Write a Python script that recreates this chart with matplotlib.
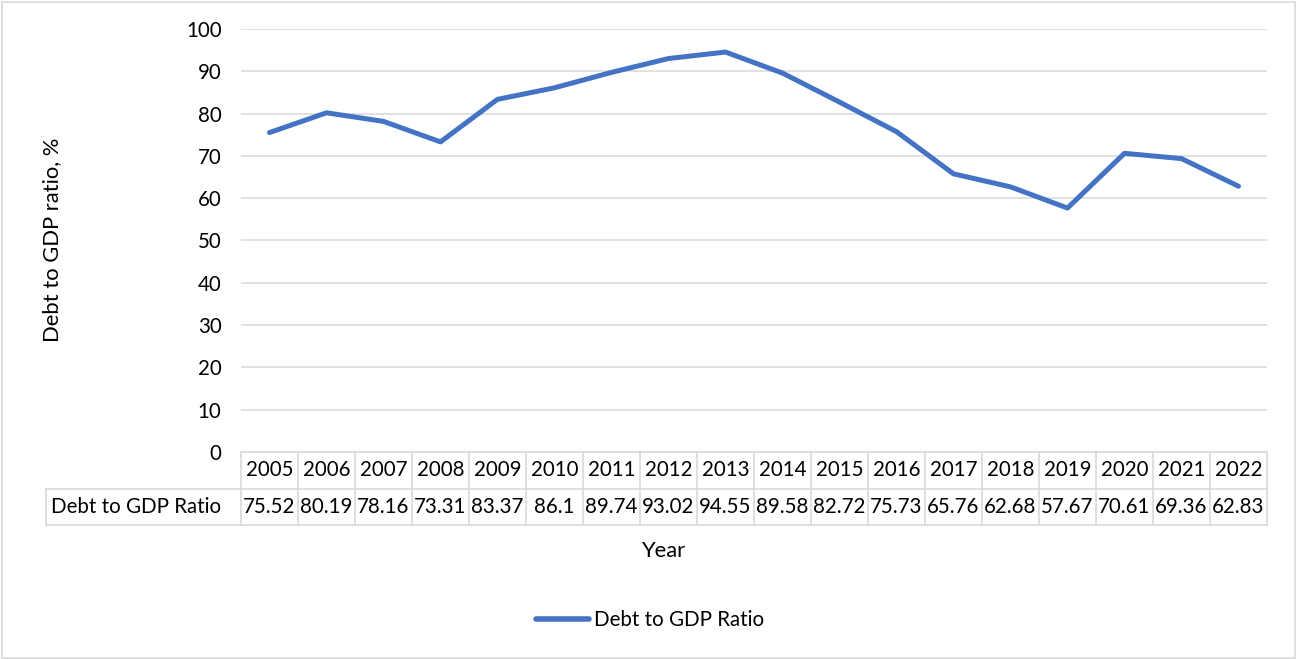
import matplotlib.pyplot as plt
import matplotlib.transforms as mtransforms
from matplotlib.patches import Rectangle

years = ['2005', '2006', '2007', '2008', '2009', '2010', '2011', '2012', '2013',
         '2014', '2015', '2016', '2017', '2018', '2019', '2020', '2021', '2022']
ratio = [75.52, 80.19, 78.16, 73.31, 83.37, 86.1, 89.74, 93.02, 94.55,
         89.58, 82.72, 75.73, 65.76, 62.68, 57.67, 70.61, 69.36, 62.83]
series_name = 'Debt to GDP Ratio'
yticks = [0, 10, 20, 30, 40, 50, 60, 70, 80, 90, 100]

plt.rcParams['font.family'] = ['Lato', 'DejaVu Sans']
W, H = 1296, 659
fs = 14.8
fig = plt.figure(figsize=(W / 100, H / 100), dpi=100)

# outer chart border
fig.patches.append(Rectangle((1.5 / W, 1.5 / H), (W - 3) / W, (H - 3) / H,
                             transform=fig.transFigure, fill=False,
                             edgecolor='#d9d9d9', linewidth=1.2))

left, right, top, bottom = 241, 1267, 29, 452
ax = fig.add_axes([left / W, 1 - bottom / H, (right - left) / W, (bottom - top) / H])

x = list(range(len(years)))
ax.plot(x, ratio, color='#4472C4', linewidth=3.6, solid_capstyle='round',
        solid_joinstyle='round', label=series_name, zorder=3)
ax.set_xlim(-0.5, len(years) - 0.5)
ax.set_ylim(0, 100)
ax.set_yticks(yticks)
ax.set_xticks([])
ax.tick_params(axis='y', length=0, labelsize=fs, pad=14, colors='#000000')
ax.grid(axis='y', color='#d9d9d9', linewidth=1.1)
ax.set_axisbelow(True)
for s in ax.spines.values():
    s.set_visible(False)

# data table under the plot
tr = mtransforms.blended_transform_factory(ax.transData, ax.transAxes)
rh = 36.5 / (bottom - top)
gc = '#d9d9d9'
lw = 1.2
n = len(years)
ax.plot([-0.5, n - 0.5], [0, 0], transform=tr, color=gc, lw=lw, clip_on=False)
ax.plot([-0.5, n - 0.5], [-2 * rh, -2 * rh], transform=tr, color=gc, lw=lw, clip_on=False)
lab_left = -0.5 - (left - 46) / ((right - left) / n)
ax.plot([lab_left, n - 0.5], [-rh, -rh], transform=tr, color=gc, lw=lw, clip_on=False)
ax.plot([lab_left, -0.5], [-2 * rh, -2 * rh], transform=tr, color=gc, lw=lw, clip_on=False)
ax.plot([lab_left, lab_left], [-rh, -2 * rh], transform=tr, color=gc, lw=lw, clip_on=False)
for i in range(n + 1):
    ax.plot([i - 0.5, i - 0.5], [0, -2 * rh], transform=tr, color=gc, lw=lw, clip_on=False)
for i in range(n):
    ax.text(i, -0.5 * rh, years[i], transform=tr, ha='center', va='center', fontsize=fs)
    ax.text(i, -1.5 * rh, '{:g}'.format(ratio[i]), transform=tr, ha='center', va='center',
            fontsize=fs)
ax.text(lab_left + 0.08, -1.5 * rh, series_name, transform=tr, ha='left', va='center',
        fontsize=fs)

fig.text(663 / W, 1 - 551 / H, 'Year', ha='center', va='center', fontsize=15.8)
fig.text(52 / W, 1 - 240 / H, 'Debt to GDP ratio, %', ha='center', va='center',
         rotation=90, fontsize=15.8)

leg = fig.legend(loc='center', bbox_to_anchor=(650 / W, 1 - 620 / H), frameon=False,
                 fontsize=fs, handlelength=2.6, handletextpad=0.25)
for h in leg.get_lines():
    h.set_linewidth(4)

fig.savefig('out.png', dpi=100)
